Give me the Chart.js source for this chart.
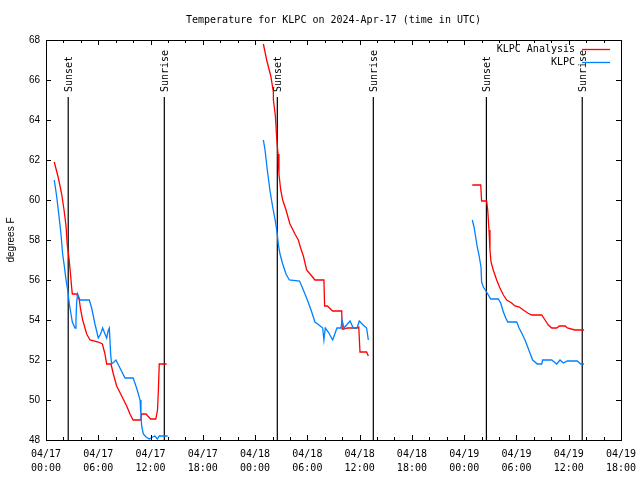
<!DOCTYPE html>
<html>
<head>
<meta charset="utf-8">
<title>Temperature for KLPC</title>
<script src="https://cdn.jsdelivr.net/npm/chart.js@4/dist/chart.umd.min.js"></script>
<style>
body{margin:0;background:#fff}
#myChart{display:block}
</style>
</head>
<body>
<canvas id="myChart" width="640" height="480"></canvas>
<script>
// hours since 04/17 00:00 UTC, null = gap between the days
var anaHours = [0.95,1.42,1.8,2.07,2.3,2.45,2.64,2.83,2.95,3.02,3.52,3.63,3.82,3.98,4.21,4.67,5.05,6.0,6.47,6.77,6.96,7.46,7.73,8.11,8.69,9.26,9.64,10.0,10.87,10.98,11.48,12.0,12.6,12.8,12.9,13.0,13.85,
  null,
  24.95,25.33,25.8,26.1,26.1,26.33,26.48,26.63,26.74,26.94,27.17,27.55,28.0,28.58,28.96,29.23,29.54,29.92,30.5,30.87,31.9,31.98,32.29,32.9,33.94,34.0,34.2,34.6,35.7,35.9,36.04,36.8,37.0,
  null,
  48.93,49.9,50.0,50.58,50.7,50.85,50.96,51.08,51.34,51.73,52.1,52.5,52.88,53.45,53.83,54.33,54.79,55.29,55.75,56.9,57.28,57.66,58.05,58.62,58.93,59.6,59.84,60.7,61.75];
var anaTemps = [61.9,61.1,60.3,59.5,58.7,57.7,57.1,56.2,55.6,55.3,55.3,55.2,55.0,54.5,54.0,53.3,53.0,52.9,52.8,52.3,51.8,51.8,51.3,50.7,50.2,49.7,49.3,49.0,49.0,49.3,49.3,49.05,49.05,49.5,50.5,51.8,51.8,
  null,
  67.8,67.0,66.2,65.4,65.0,64.2,63.1,62.3,61.3,60.5,60.0,59.5,58.8,58.3,58.0,57.6,57.2,56.5,56.2,56.0,56.0,54.7,54.7,54.45,54.45,53.55,53.55,53.6,53.6,53.65,52.4,52.4,52.2,
  null,
  60.75,60.75,59.95,59.95,59.5,58.5,57.5,56.9,56.5,56.0,55.6,55.25,55.0,54.85,54.7,54.65,54.5,54.35,54.25,54.25,54.0,53.75,53.6,53.6,53.7,53.7,53.6,53.5,53.5];

var obsHours = [0.95,1.22,1.49,1.72,1.91,2.1,2.3,2.49,2.68,2.87,3.02,3.33,3.44,3.52,3.63,3.9,4.97,5.24,5.62,6.0,6.27,6.5,6.77,6.96,7.16,7.27,7.42,7.53,7.8,8.03,8.49,9.07,10.0,10.4,10.8,10.9,10.98,11.17,11.48,11.86,12.25,12.5,12.78,13.0,13.27,13.97,
  null,
  24.95,25.14,25.4,25.7,26.0,26.3,26.55,26.66,26.86,27.17,27.55,27.93,29.1,29.54,30.0,30.5,30.87,31.33,31.76,31.9,32.06,32.4,32.9,33.4,33.86,33.98,34.2,34.9,35.27,35.7,35.96,36.4,36.8,37.0,
  null,
  48.93,49.13,49.32,49.5,49.7,49.93,50.0,50.2,50.5,50.77,51.04,51.92,52.19,52.5,52.77,53.0,54.03,54.3,54.6,54.98,55.29,55.55,55.86,56.4,56.9,57.0,58.05,58.62,59.0,59.38,59.84,60.99,61.37,61.75];
var obsTemps = [61.0,60.2,59.2,58.3,57.3,56.7,56.0,55.5,54.8,54.3,53.9,53.6,54.0,54.9,55.3,55.0,55.0,54.6,53.8,53.1,53.3,53.6,53.3,53.1,53.5,53.6,52.3,51.8,51.9,52.0,51.6,51.1,51.1,50.6,50.0,49.2,48.7,48.3,48.15,48.05,48.15,48.2,48.05,48.2,48.2,48.2,
  null,
  63.0,62.5,61.5,60.5,59.7,59.0,58.3,57.8,57.3,56.8,56.3,56.0,55.95,55.5,55.0,54.4,53.9,53.75,53.6,53.0,53.6,53.4,53.0,53.6,53.6,54.0,53.6,53.95,53.6,53.6,53.95,53.75,53.6,53.0,
  null,
  59.0,58.65,58.15,57.65,57.25,56.65,55.9,55.65,55.45,55.25,55.05,55.05,54.85,54.4,54.1,53.9,53.9,53.6,53.35,53.0,52.65,52.35,52.0,51.8,51.8,52.0,52.0,51.8,52.0,51.85,51.95,51.95,51.8,51.8];

var sunsetHours = [2.55, 26.55, 50.55];
var sunriseHours = [13.58, 37.57, 61.55];
var sunLineTop = 65.15;
var sunLabelAt = 65.4;

var chartTitle = "Temperature for KLPC on 2024-Apr-17 (time in UTC)";
var yTitle = "degrees F";
var seriesNames = ["KLPC Analysis", "KLPC"];
var seriesColors = ["#ff0000", "#0080ff"];

var monoFont = "'DejaVu Sans Mono', monospace";
var sansFont = "'Liberation Sans', Arial, sans-serif";

function toPoints(hours, temps){
  var pts = [];
  for (var i = 0; i < hours.length; i++) {
    if (hours[i] === null) {
      pts.push({x: hours[i-1] + 0.01, y: null});
    } else {
      pts.push({x: hours[i], y: temps[i]});
    }
  }
  return pts;
}

var sunPts = [];
sunsetHours.concat(sunriseHours).forEach(function(h){
  sunPts.push({x: h, y: 48});
  sunPts.push({x: h, y: sunLineTop});
  sunPts.push({x: h, y: null});
});

function pad2(n){ return (n < 10 ? "0" : "") + n; }

var gnuplotStuff = {
  id: "gnuplotStuff",
  afterDraw: function(chart){
    var ctx = chart.ctx;
    var a = chart.chartArea;
    var xs = chart.scales.x, ys = chart.scales.y;
    ctx.save();
    ctx.strokeStyle = "#000";
    ctx.lineWidth = 1;
    // frame
    ctx.strokeRect(a.left + 0.5, a.top + 0.5, a.right - a.left, a.bottom - a.top);
    // inward ticks
    ctx.beginPath();
    for (var h = 0; h <= 66; h += 2) {
      var px = Math.round(xs.getPixelForValue(h)) + 0.5;
      var len = (h % 6 === 0) ? 5 : 3;
      ctx.moveTo(px, a.bottom); ctx.lineTo(px, a.bottom - len);
      ctx.moveTo(px, a.top); ctx.lineTo(px, a.top + len);
    }
    for (var v = 48; v <= 68; v += 2) {
      var py = Math.round(ys.getPixelForValue(v)) + 0.5;
      ctx.moveTo(a.left, py); ctx.lineTo(a.left + 5, py);
      ctx.moveTo(a.right, py); ctx.lineTo(a.right - 5, py);
    }
    ctx.stroke();

    ctx.fillStyle = "#000";
    // title
    ctx.font = "10px " + monoFont;
    ctx.textAlign = "center";
    ctx.textBaseline = "middle";
    ctx.fillText(chartTitle, (a.left + a.right) / 2, 20);

    // sunset / sunrise labels
    function sunLabel(h, txt){
      ctx.save();
      ctx.translate(xs.getPixelForValue(h) + 1.5, ys.getPixelForValue(sunLabelAt));
      ctx.rotate(-Math.PI / 2);
      ctx.textAlign = "left";
      ctx.fillText(txt, 0, 0);
      ctx.restore();
    }
    sunsetHours.forEach(function(h){ sunLabel(h, "Sunset"); });
    sunriseHours.forEach(function(h){ sunLabel(h, "Sunrise"); });

    // y title
    ctx.save();
    ctx.font = "10px " + sansFont;
    ctx.translate(11, (a.top + a.bottom) / 2);
    ctx.rotate(-Math.PI / 2);
    ctx.textAlign = "center";
    ctx.fillText(yTitle, 0, 0);
    ctx.restore();

    // key
    ctx.font = "10px " + monoFont;
    ctx.textAlign = "right";
    for (var k = 0; k < seriesNames.length; k++) {
      var ky = 49.5 + k * 13;
      ctx.fillStyle = "#000";
      ctx.fillText(seriesNames[k], 575, ky);
      ctx.strokeStyle = seriesColors[k];
      ctx.lineWidth = 1.3;
      ctx.beginPath();
      ctx.moveTo(582, ky); ctx.lineTo(610, ky);
      ctx.stroke();
    }
    ctx.restore();
  }
};

var chartData = {
  datasets: [{
    label: seriesNames[0],
    data: toPoints(anaHours, anaTemps),
    borderColor: seriesColors[0],
    borderWidth: 1.3,
    pointRadius: 0,
    tension: 0,
    spanGaps: false,
    order: 2
  }, {
    label: seriesNames[1],
    data: toPoints(obsHours, obsTemps),
    borderColor: seriesColors[1],
    borderWidth: 1.3,
    pointRadius: 0,
    tension: 0,
    spanGaps: false,
    order: 1
  }, {
    label: "sun",
    data: sunPts,
    borderColor: "#000",
    borderWidth: 1.2,
    pointRadius: 0,
    spanGaps: false,
    order: 3
  }]
};

var chartConfig = {
  type: "line",
  data: chartData,
  plugins: [gnuplotStuff],
  options: {
    responsive: false,
    animation: false,
    layout: {padding: {top: 40, right: 19, left: 0, bottom: 0}},
    plugins: {legend: {display: false}, title: {display: false}, tooltip: {enabled: false}},
    scales: {
      x: {
        type: "linear",
        min: 0, max: 66,
        grid: {display: false, drawTicks: false},
        border: {display: false},
        afterFit: function(s){ s.height = 40; s.paddingLeft = 0; s.paddingRight = 0; },
        ticks: {
          stepSize: 6,
          autoSkip: false,
          maxRotation: 0,
          padding: 7,
          color: "#000",
          font: {family: monoFont, size: 10, lineHeight: 1.45},
          callback: function(v){
            var day = 17 + Math.floor(v / 24);
            return ["04/" + day, pad2(v % 24) + ":00"];
          }
        }
      },
      y: {
        min: 48, max: 68,
        grid: {display: false, drawTicks: false},
        border: {display: false},
        afterFit: function(s){ s.width = 46; },
        ticks: {
          stepSize: 2,
          padding: 6,
          color: "#000",
          font: {family: sansFont, size: 10}
        }
      }
    }
  }
};

var myChart = new Chart(document.getElementById("myChart"), chartConfig);
</script>
</body>
</html>
